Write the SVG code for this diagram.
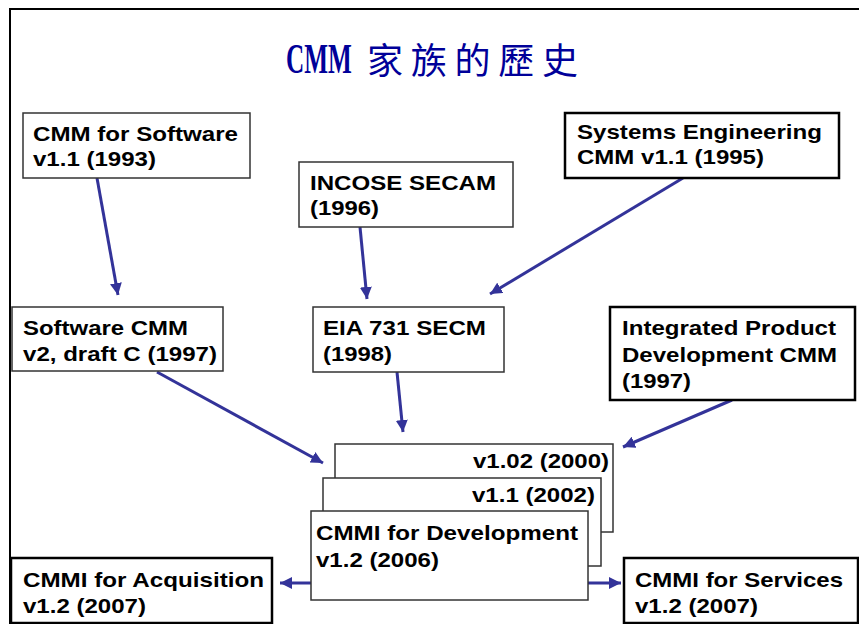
<svg xmlns="http://www.w3.org/2000/svg" width="859" height="624" viewBox="0 0 859 624">
<style>
.frame{fill:none;stroke:#000;stroke-width:2}
.thin{fill:#fff;stroke:#333;stroke-width:1.5}
.thick{fill:#fff;stroke:#000;stroke-width:2.5}
.t{font-family:"Liberation Sans",Arial,sans-serif;font-weight:bold;font-size:20.5px;fill:#000}
.title{fill:#000099}
.conn line{stroke:#333399;stroke-width:3;fill:none}
</style>
<defs>
<marker id="ah" markerUnits="userSpaceOnUse" markerWidth="12" markerHeight="12" refX="10" refY="5" orient="auto" viewBox="0 0 10 10">
<path d="M0,0 L10,5 L0,10 z" fill="#333399"/>
</marker>
</defs>
<rect width="859" height="624" fill="#fff"/>
<rect class="frame" x="10" y="9" width="870" height="640"/>
<g id="title">
<text class="title" transform="translate(286,73) scale(0.6,1)" x="0" y="0" font-family="'Liberation Serif',serif" font-weight="bold" font-size="42">CMM</text>
<text class="title" x="367" y="74" font-family="'Noto Sans CJK TC','Noto Sans CJK SC',sans-serif" font-size="36" textLength="211" lengthAdjust="spacing">家族的歷史</text>
</g>

<g id="connectors" class="conn">
<line x1="97" y1="178" x2="118" y2="295" marker-end="url(#ah)"/>
<line x1="360" y1="227" x2="367" y2="299" marker-end="url(#ah)"/>
<line x1="683" y1="178" x2="490" y2="294" marker-end="url(#ah)"/>
<line x1="157" y1="372" x2="323" y2="463" marker-end="url(#ah)"/>
<line x1="397" y1="372" x2="403" y2="432" marker-end="url(#ah)"/>
<line x1="732" y1="400" x2="623" y2="447" marker-end="url(#ah)"/>
<line x1="311" y1="583" x2="280" y2="583" marker-end="url(#ah)"/>
<line x1="588" y1="583" x2="621" y2="583" marker-end="url(#ah)"/>
</g>

<g id="cmm-sw">
<rect class="thin" x="23" y="113" width="227" height="65"/>
<text class="t" x="33" y="141" textLength="205" lengthAdjust="spacingAndGlyphs">CMM for Software</text>
<text class="t" x="33" y="166" textLength="123" lengthAdjust="spacingAndGlyphs">v1.1 (1993)</text>
</g>
<g id="incose">
<rect class="thin" x="299" y="162" width="214" height="65"/>
<text class="t" x="310" y="190" textLength="186" lengthAdjust="spacingAndGlyphs">INCOSE SECAM</text>
<text class="t" x="310" y="215" textLength="69" lengthAdjust="spacingAndGlyphs">(1996)</text>
</g>
<g id="se-cmm">
<rect class="thick" x="565" y="113" width="274" height="65"/>
<text class="t" x="577" y="139" textLength="245" lengthAdjust="spacingAndGlyphs">Systems Engineering</text>
<text class="t" x="577" y="164" textLength="187" lengthAdjust="spacingAndGlyphs">CMM v1.1 (1995)</text>
</g>
<g id="sw-cmm-v2">
<rect class="thin" x="12" y="307" width="211" height="64"/>
<text class="t" x="23" y="335" textLength="165" lengthAdjust="spacingAndGlyphs">Software CMM</text>
<text class="t" x="23" y="361" textLength="194" lengthAdjust="spacingAndGlyphs">v2, draft C (1997)</text>
</g>
<g id="eia">
<rect class="thin" x="313" y="307" width="191" height="65"/>
<text class="t" x="323" y="335" textLength="163" lengthAdjust="spacingAndGlyphs">EIA 731 SECM</text>
<text class="t" x="323" y="361" textLength="69" lengthAdjust="spacingAndGlyphs">(1998)</text>
</g>
<g id="ipd">
<rect class="thick" x="610" y="307" width="245" height="93"/>
<text class="t" x="622" y="335" textLength="214" lengthAdjust="spacingAndGlyphs">Integrated Product</text>
<text class="t" x="622" y="362" textLength="215" lengthAdjust="spacingAndGlyphs">Development CMM</text>
<text class="t" x="622" y="388" textLength="69" lengthAdjust="spacingAndGlyphs">(1997)</text>
</g>
<g id="cmmi-v102">
<rect class="thin" x="335" y="444" width="278" height="88"/>
<text class="t" x="609" y="468" text-anchor="end" textLength="136" lengthAdjust="spacingAndGlyphs">v1.02 (2000)</text>
</g>
<g id="cmmi-v11">
<rect class="thin" x="323" y="478" width="278" height="88"/>
<text class="t" x="595" y="502" text-anchor="end" textLength="123" lengthAdjust="spacingAndGlyphs">v1.1 (2002)</text>
</g>
<g id="cmmi-dev">
<rect class="thin" x="311" y="511" width="277" height="89"/>
<text class="t" x="316" y="540" textLength="262" lengthAdjust="spacingAndGlyphs">CMMI for Development</text>
<text class="t" x="316" y="567" textLength="123" lengthAdjust="spacingAndGlyphs">v1.2 (2006)</text>
</g>
<g id="cmmi-acq">
<rect class="thick" x="11" y="558" width="261" height="65"/>
<text class="t" x="23" y="587" textLength="241" lengthAdjust="spacingAndGlyphs">CMMI for Acquisition</text>
<text class="t" x="23" y="613" textLength="123" lengthAdjust="spacingAndGlyphs">v1.2 (2007)</text>
</g>
<g id="cmmi-svc">
<rect class="thick" x="624" y="558" width="234" height="65"/>
<text class="t" x="635" y="587" textLength="208" lengthAdjust="spacingAndGlyphs">CMMI for Services</text>
<text class="t" x="635" y="613" textLength="123" lengthAdjust="spacingAndGlyphs">v1.2 (2007)</text>
</g>
</svg>
